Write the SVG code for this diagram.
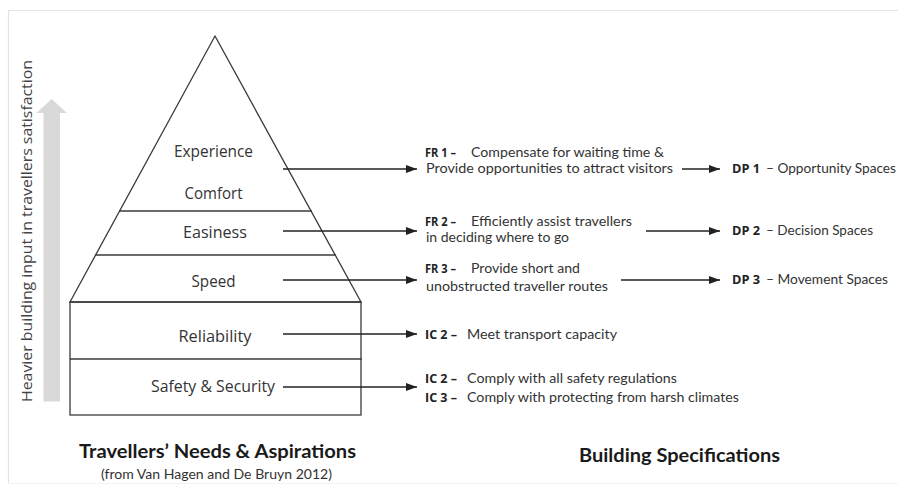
<svg xmlns="http://www.w3.org/2000/svg" width="898" height="489" viewBox="0 0 898 489">
<style>
.frame{stroke:#e3e3e3;stroke-width:1.2;fill:none}
.shape{fill:none;stroke:#3a3a3a;stroke-width:1.3}
.conn{stroke:#222;stroke-width:1.3;fill:none;marker-end:url(#ah)}
.lbl{font-family:"Open Sans","DejaVu Sans",sans-serif;font-size:15.5px;fill:#333;text-anchor:middle}
.spec{font-family:Lato,"Open Sans",sans-serif;font-size:13px;fill:#333}
.specb{font-family:"Open Sans",Lato,sans-serif;font-size:12px;font-weight:bold;fill:#222}
.title{font-family:Lato,"Open Sans",sans-serif;font-size:18.5px;font-weight:bold;fill:#1a1a1a}
.sub{font-family:Lato,"Open Sans",sans-serif;font-size:13.5px;fill:#333}
.vert{font-family:"Open Sans","DejaVu Sans",sans-serif;font-size:14.5px;fill:#444}
</style>
<defs>
<marker id="ah" markerWidth="12" markerHeight="8" refX="11" refY="4" orient="auto" markerUnits="userSpaceOnUse">
<path d="M0,0 L11,4 L0,8 Z" fill="#222"/>
</marker>
</defs>
<rect width="898" height="489" fill="#fff"/>
<g id="frame">
<line class="frame" x1="8" y1="10.5" x2="898" y2="10.5"/>
<line class="frame" x1="8.5" y1="10" x2="8.5" y2="483"/>
<line x1="8" y1="483.5" x2="898" y2="483.5" stroke="#f2f2f2" stroke-width="1"/>
</g>
<g id="axis-arrow">
<path d="M43.5,401.5 L43.5,113 L36.5,113 L51.7,99 L66.8,113 L60,113 L60,401.5 Z" fill="#d9d9d9"/>
<text class="vert" transform="translate(32,402) rotate(-90)" x="0" y="0" textLength="342" lengthAdjust="spacingAndGlyphs">Heavier building input in travellers satisfaction</text>
</g>
<g id="pyramid">
<polygon class="shape" points="215,36 361,302 70,302"/>
<rect class="shape" x="70" y="302" width="291" height="113"/>
<line class="shape" x1="119" y1="211" x2="312" y2="211"/>
<line class="shape" x1="95" y1="255" x2="336" y2="255"/>
<line class="shape" x1="70" y1="359" x2="362" y2="359"/>
</g>
<g id="level-experience"><text class="lbl" x="213.5" y="157" textLength="79" lengthAdjust="spacingAndGlyphs">Experience</text></g>
<g id="level-comfort"><text class="lbl" x="213.5" y="199" textLength="58" lengthAdjust="spacingAndGlyphs">Comfort</text></g>
<g id="level-easiness"><text class="lbl" x="215" y="238" textLength="64" lengthAdjust="spacingAndGlyphs">Easiness</text></g>
<g id="level-speed"><text class="lbl" x="213.5" y="287" textLength="44" lengthAdjust="spacingAndGlyphs">Speed</text></g>
<g id="level-reliability"><text class="lbl" x="215" y="342" textLength="73" lengthAdjust="spacingAndGlyphs">Reliability</text></g>
<g id="level-safety"><text class="lbl" x="213" y="392" textLength="124" lengthAdjust="spacingAndGlyphs">Safety &amp; Security</text></g>
<g id="fr1">
<text class="specb" x="425" y="157" textLength="31" lengthAdjust="spacingAndGlyphs">FR 1 –</text>
<text class="spec" x="471" y="157" textLength="193" lengthAdjust="spacingAndGlyphs">Compensate for waiting time &amp;</text>
<text class="spec" x="426" y="173" textLength="247" lengthAdjust="spacingAndGlyphs">Provide opportunities to attract visitors</text>
</g>
<g id="fr2">
<text class="specb" x="425" y="226" textLength="31" lengthAdjust="spacingAndGlyphs">FR 2 –</text>
<text class="spec" x="471" y="226" textLength="161" lengthAdjust="spacingAndGlyphs">Efficiently assist travellers</text>
<text class="spec" x="426" y="242" textLength="143" lengthAdjust="spacingAndGlyphs">in deciding where to go</text>
</g>
<g id="fr3">
<text class="specb" x="425" y="273" textLength="31" lengthAdjust="spacingAndGlyphs">FR 3 –</text>
<text class="spec" x="471" y="273" textLength="109" lengthAdjust="spacingAndGlyphs">Provide short and</text>
<text class="spec" x="426" y="291" textLength="182" lengthAdjust="spacingAndGlyphs">unobstructed traveller routes</text>
</g>
<g id="dp1">
<text class="specb" x="732" y="173" textLength="28" lengthAdjust="spacingAndGlyphs">DP 1</text>
<text class="spec" x="766" y="173" textLength="130" lengthAdjust="spacingAndGlyphs">– Opportunity Spaces</text>
</g>
<g id="dp2">
<text class="specb" x="732" y="235" textLength="28" lengthAdjust="spacingAndGlyphs">DP 2</text>
<text class="spec" x="766" y="235" textLength="107" lengthAdjust="spacingAndGlyphs">– Decision Spaces</text>
</g>
<g id="dp3">
<text class="specb" x="732" y="284" textLength="28" lengthAdjust="spacingAndGlyphs">DP 3</text>
<text class="spec" x="766" y="284" textLength="122" lengthAdjust="spacingAndGlyphs">– Movement Spaces</text>
</g>
<g id="ic-reliability">
<text class="specb" x="425" y="339" textLength="32" lengthAdjust="spacingAndGlyphs">IC 2 –</text>
<text class="spec" x="467" y="339" textLength="150" lengthAdjust="spacingAndGlyphs">Meet transport capacity</text>
</g>
<g id="ic-safety">
<text class="specb" x="425" y="383" textLength="32" lengthAdjust="spacingAndGlyphs">IC 2 –</text>
<text class="spec" x="467" y="383" textLength="210" lengthAdjust="spacingAndGlyphs">Comply with all safety regulations</text>
<text class="specb" x="425" y="402" textLength="32" lengthAdjust="spacingAndGlyphs">IC 3 –</text>
<text class="spec" x="467" y="402" textLength="272" lengthAdjust="spacingAndGlyphs">Comply with protecting from harsh climates</text>
</g>
<g id="titles">
<text class="title" x="79" y="458" textLength="277" lengthAdjust="spacingAndGlyphs">Travellers’ Needs &amp; Aspirations</text>
<text class="sub" x="101" y="479" textLength="231" lengthAdjust="spacingAndGlyphs">(from Van Hagen and De Bruyn 2012)</text>
<text class="title" x="579" y="462" textLength="201" lengthAdjust="spacingAndGlyphs">Building Specifications</text>
</g>
<g id="connectors">
<line class="conn" x1="283" y1="169" x2="417" y2="169"/>
<line class="conn" x1="682" y1="169" x2="720" y2="169"/>
<line class="conn" x1="283" y1="231" x2="417" y2="231"/>
<line class="conn" x1="646" y1="231" x2="720" y2="231"/>
<line class="conn" x1="283" y1="280" x2="417" y2="280"/>
<line class="conn" x1="621" y1="280" x2="720" y2="280"/>
<line class="conn" x1="283" y1="334" x2="417" y2="334"/>
<line class="conn" x1="283" y1="387" x2="417" y2="387"/>
</g>
</svg>
